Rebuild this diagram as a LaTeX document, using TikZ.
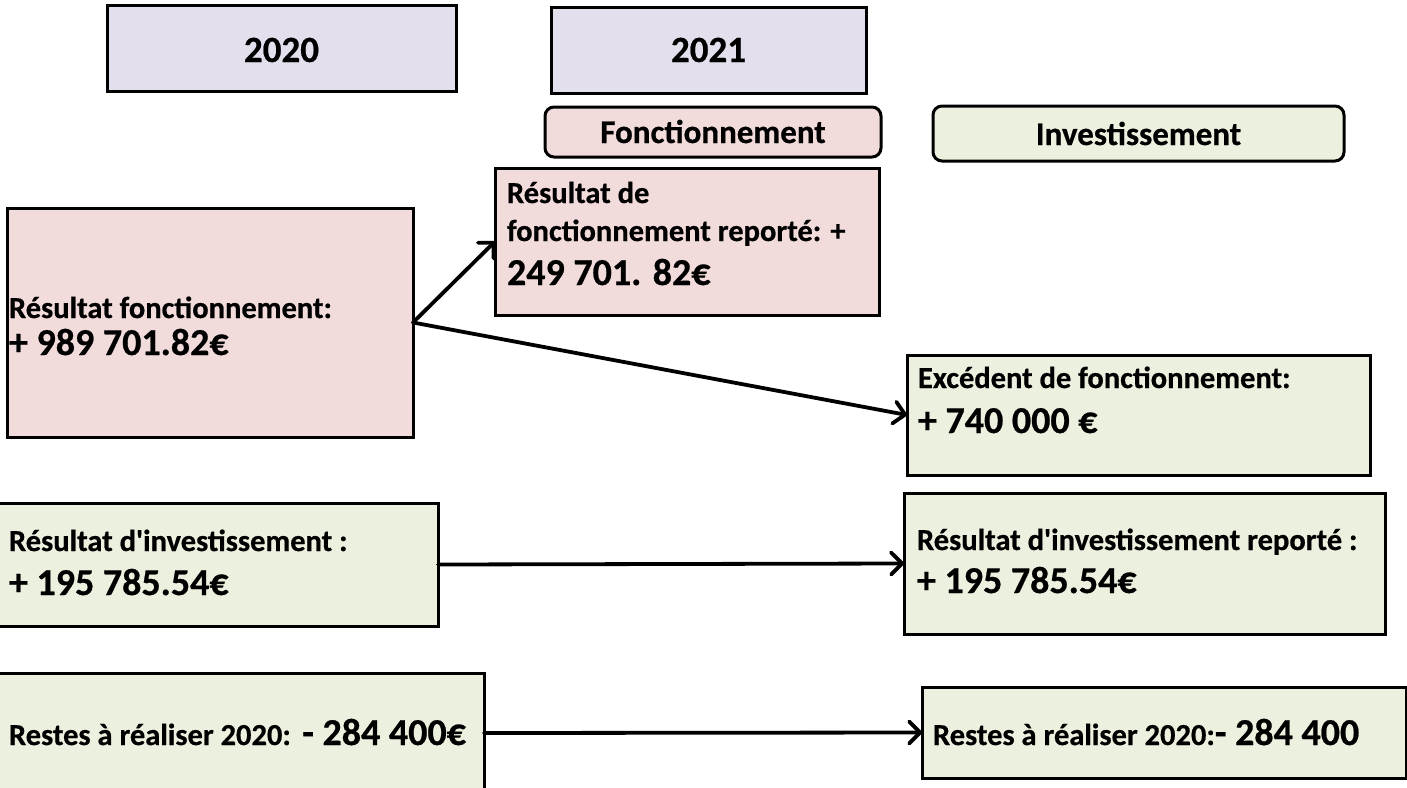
\documentclass[tikz,border=0pt]{standalone}
\usepackage{fontspec}
\newfontfamily\calib{Carlito}[BoldFeatures={FakeBold=0.6}]
\usetikzlibrary{arrows.meta}
\definecolor{lav}{HTML}{E4DFEC}
\definecolor{pinkfill}{HTML}{F2DCDB}
\definecolor{greenfill}{HTML}{EBF1DE}
\newcommand{\fsmall}{\fontsize{30.5}{36}\selectfont}
\newcommand{\fbig}{\fontsize{38}{46}\selectfont}
\newcommand{\fhead}{\fontsize{37}{44}\selectfont}
\newcommand{\fsub}{\fontsize{33}{40}\selectfont}
\begin{document}
\begin{tikzpicture}[x=1pt,y=-1pt,
  box/.style={draw=black,line width=3pt,inner sep=0pt,outer sep=0pt},
  rbox/.style={box,rounded corners=9pt},
  txt/.style={inner sep=0pt,outer sep=0pt,font=\calib\bfseries},
  conn/.style={line width=3.8pt,line cap=round,-{Straight Barb[length=11pt,width=22pt,line cap=round,line join=round]}}]
\useasboundingbox (0,0) rectangle (1407,787);
\clip (0,0) rectangle (1407,787);
\fill[white] (0,0) rectangle (1407,787);

% header boxes
\node[box,fill=lav,minimum width=349pt,minimum height=86pt] (h20) at (281.5,48) {};
\node[txt,anchor=base] (t20) at (281.5,62) {\fhead 2020};
\node[box,fill=lav,minimum width=315pt,minimum height=86pt] (h21) at (708.5,50) {};
\node[txt,anchor=base] (t21) at (708.5,62) {\fhead 2021};

\node[rbox,fill=pinkfill,minimum width=336pt,minimum height=50pt] (hf) at (713,132) {};
\node[txt,anchor=base] (thf) at (713,143) {\fsub Fonctionnement};
\node[rbox,fill=greenfill,minimum width=411pt,minimum height=55pt] (hi) at (1138.5,133.5) {};
\node[txt,anchor=base] (thi) at (1138.5,145) {\fsub Investissement};

% 2020 fonctionnement
\node[box,fill=pinkfill,minimum width=406pt,minimum height=229pt] (fr) at (210,322.5) {};
\node[txt,anchor=base west] (fr1) at (9,318) {\fsmall Résultat fonctionnement:};
\node[txt,anchor=base west] (fr2) at (9,355) {\fbig + 989 701.82€};

% reporte fonctionnement
\node[box,fill=pinkfill,minimum width=384pt,minimum height=147pt] (frr) at (687,241.5) {};
\node[txt,anchor=base west] (frr1) at (507,203) {\fsmall Résultat de};
\node[txt,anchor=base west] (frr2) at (507,241) {\fsmall fonctionnement reporté: +};
\node[txt,anchor=base west] (frr3) at (507,285) {\fbig 249 701. 82€};

% excedent
\node[box,fill=greenfill,minimum width=463pt,minimum height=120pt] (exc) at (1138.5,415) {};
\node[txt,anchor=base west] (exc1) at (918,388) {\fsmall Excédent de fonctionnement:};
\node[txt,anchor=base west] (exc2) at (918,433) {\fbig + 740 000 €};

% resultat investissement 2020
\node[box,fill=greenfill,minimum width=443pt,minimum height=123pt] (ri) at (216.5,564.5) {};
\node[txt,anchor=base west] (ri1) at (9,551) {\fsmall Résultat d'investissement :};
\node[txt,anchor=base west] (ri2) at (9,595) {\fbig + 195 785.54€};

% resultat investissement reporte
\node[box,fill=greenfill,minimum width=481pt,minimum height=141pt] (rir) at (1144.5,563.5) {};
\node[txt,anchor=base west] (rir1) at (917,550) {\fsmall Résultat d'investissement reporté :};
\node[txt,anchor=base west] (rir2) at (917,593) {\fbig + 195 785.54€};

% restes
\node[box,fill=greenfill,minimum width=489pt,minimum height=120pt] (rl) at (239.5,733) {};
\node[txt,anchor=base west] (rl1) at (9,745) {\fbig{\fsmall Restes à réaliser 2020:} - 284 400€};
\node[box,fill=greenfill,minimum width=484pt,minimum height=91pt] (rr) at (1164,732.5) {};
\node[txt,anchor=base west] (rr1) at (933,745) {\fbig{\fsmall Restes à réaliser 2020:}- 284 400};

% connectors
\draw[conn] (fr.east) -- (frr.west);
\draw[conn] (fr.east) -- (exc.west);
\draw[conn] (ri.east) -- (rir.west);
\draw[conn] (rl.east) -- (rr.west);
\end{tikzpicture}
\end{document}
